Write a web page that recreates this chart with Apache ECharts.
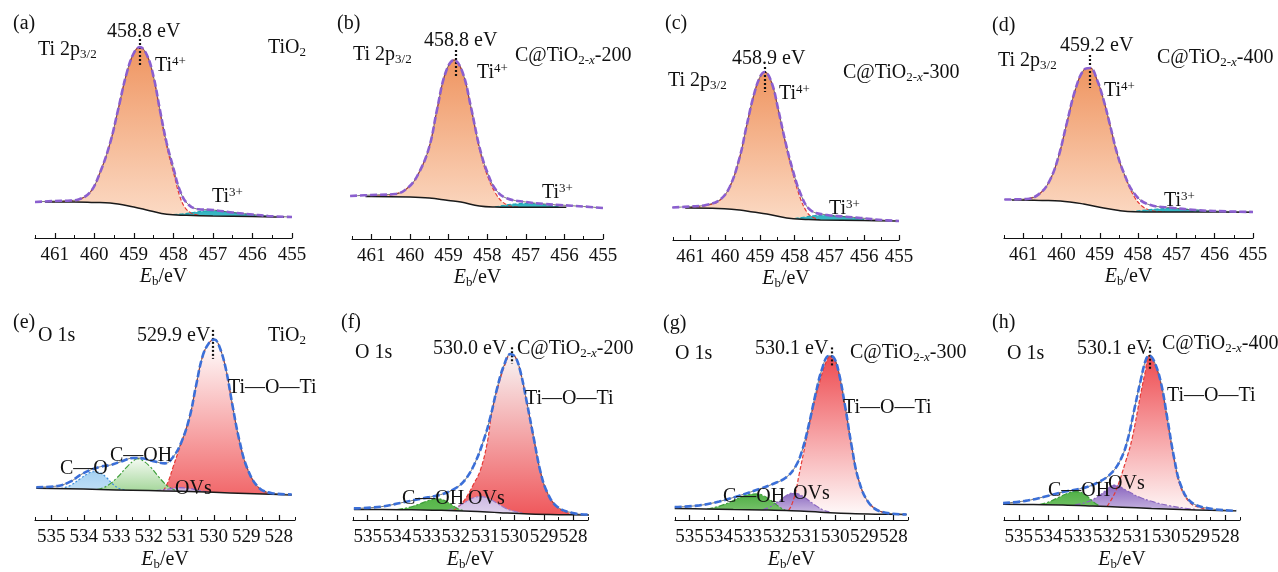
<!DOCTYPE html>
<html>
<head>
<meta charset="utf-8">
<script src="https://cdn.jsdelivr.net/npm/echarts@6/dist/echarts.min.js"></script>
<style>
  html, body { margin: 0; padding: 0; background: #fff; }
  #chart { width: 1278px; height: 572px; }
</style>
</head>
<body>
<div id="chart"></div>
<script>
// tick labels
const tiTicks = [455, 456, 457, 458, 459, 460, 461]
const tiMinor = [455.5, 456.5, 457.5, 458.5, 459.5, 460.5, 461.5]
const oTicks = [528, 529, 530, 531, 532, 533, 534, 535]
const oMinor = [527.5, 528.5, 529.5, 530.5, 531.5, 532.5, 533.5, 534.5, 535.5]

// (a) TiO2, Ti 2p3/2  -- [binding energy, intensity]
const aEnv = [[461.5,36],[461.0,37],[460.6,37.5],[460.4,38.5],[460.1,46],[459.86,65],[459.6,95],[459.4,128],[459.18,165],[459.0,185],[458.85,191],[458.67,183],[458.5,161],[458.34,128],[458.17,95],[458.0,70],[457.84,48],[457.66,35],[457.4,29],[457.0,28],[456.5,25.5],[456.0,23.5],[455.6,22],[455.0,21]]
const aBg = [[461.25,36],[461.1,36],[460.5,36],[460.0,35.5],[459.6,35],[459.0,31],[458.6,27.3],[458.17,23.7],[457.66,22.7],[457.0,22],[456.0,21.5],[455.3,21],[455.2,21]]
const aTi4 = [[461.1,36.1],[460.6,37.2],[460.4,38.2],[460.1,46],[459.86,65],[459.6,95],[459.4,128],[459.18,165],[459.0,185],[458.85,191],[458.67,183],[458.5,160],[458.34,126],[458.17,92],[458.0,66],[457.84,42],[457.7,30],[457.55,25],[457.4,23],[457.2,22.2]]
const aTi3 = [[458.0,23.5],[457.8,24],[457.5,25.5],[457.2,27],[457.0,27.3],[456.7,26.5],[456.4,25],[456.0,23],[455.6,21.8]]

// (b) C@TiO2-x-200, Ti 2p3/2
const bEnv = [[461.55,43],[461.0,44],[460.38,45],[460.03,52],[459.77,66],[459.5,92],[459.3,129],[459.08,166],[458.86,179],[458.64,167],[458.42,132],[458.2,92],[457.99,66],[457.77,49],[457.51,41],[457.0,37],[456.5,35],[456.12,34],[455.5,32.5],[455.0,31]]
const bBg = [[461.15,42.5],[461.0,42.5],[460.0,42],[459.5,41],[459.0,38.5],[458.68,37],[458.2,33],[457.8,32],[457.0,31.7],[456.1,31.7],[455.95,31.7]]
const bTi4 = [[461.0,42.6],[460.38,45],[460.03,52],[459.77,66],[459.5,92],[459.3,129],[459.08,166],[458.86,179],[458.64,167],[458.42,131],[458.2,90],[457.99,63],[457.77,45],[457.6,37],[457.4,33],[457.2,32]]
const bTi3 = [[457.8,32],[457.5,34],[457.2,35.3],[456.9,35.5],[456.6,34.5],[456.3,33],[456.1,32]]

// (c) C@TiO2-x-300, Ti 2p3/2
const cEnv = [[461.52,32.5],[461.0,33.5],[460.55,35],[460.16,40],[459.87,53],[459.58,83],[459.39,113],[459.19,143],[459.0,163],[458.86,168],[458.66,157],[458.47,130],[458.28,100],[458.08,73],[457.84,47],[457.55,30],[457.07,25],[456.6,23.5],[456.1,22],[455.5,20],[455.0,19]]
const cBg = [[461.15,32],[461.0,32],[460.37,31.8],[459.58,30],[459.2,28],[458.8,26],[458.23,22],[457.6,20.5],[457.26,20],[456.0,19.5],[455.0,19]]
const cTi4 = [[461.0,32.2],[460.55,34.5],[460.16,39.5],[459.87,53],[459.58,83],[459.39,113],[459.19,143],[459.0,163],[458.86,168],[458.66,157],[458.47,130],[458.28,99],[458.08,70],[457.84,42],[457.65,28],[457.5,23],[457.3,20.5]]
const cTi3 = [[458.0,21.5],[457.7,23],[457.4,24.5],[457.1,24.8],[456.8,24],[456.4,22.5],[456.0,20.5]]

// (d) C@TiO2-x-400, Ti 2p3/2
const dEnv = [[461.49,38.5],[460.9,39],[460.55,45],[460.3,58],[460.08,81],[459.86,115],[459.64,148],[459.42,168],[459.25,170],[459.07,158],[458.9,138],[458.72,111],[458.55,85],[458.37,65],[458.11,45],[457.76,34],[457.07,30],[456.5,28],[456.02,27],[455.0,26]]
const dBg = [[461.3,38],[461.16,38],[460.5,37.5],[460.03,37],[459.42,34],[458.9,30],[458.5,27.5],[458.11,26.2],[457.5,26],[456.5,26],[455.14,25.8],[455.05,25.8]]
const dTi4 = [[461.16,38.1],[460.9,39],[460.55,45],[460.3,58],[460.08,81],[459.86,115],[459.64,148],[459.42,168],[459.25,170],[459.07,158],[458.9,138],[458.72,111],[458.55,85],[458.37,64],[458.11,42],[457.9,32],[457.7,28],[457.5,26.5],[457.3,26]]
const dTi3 = [[458.2,26.3],[457.9,27.5],[457.5,29],[457.2,29.5],[456.9,29],[456.5,28],[456.0,26.5],[455.6,26]]

// (e) TiO2, O 1s
const eEnv = [[535.46,34],[534.8,35.3],[534.4,40],[534.09,47],[533.78,52],[533.48,55.3],[533.18,57],[532.87,60.3],[532.47,64.3],[532.16,63.7],[531.86,61],[531.5,58.7],[531.25,65.3],[531.0,80.3],[530.74,107],[530.54,140],[530.34,170],[530.14,183.7],[529.98,187],[529.83,180],[529.63,157],[529.43,120],[529.22,83.7],[528.97,53.7],[528.62,33.7],[528.21,27.8],[527.6,26.5]]
const eBg = [[535.46,33],[534.0,32],[533.0,31.2],[532.0,30.5],[531.0,29.8],[530.0,28.7],[529.0,27.5],[528.0,26.3],[527.6,26]]
const eCO = [[534.7,32.5],[534.4,36],[534.1,43],[533.85,48.5],[533.7,50],[533.5,49],[533.3,44],[533.1,37],[532.9,32.5],[532.7,31.3]]
const eCOH = [[533.6,31.5],[533.3,35],[533.0,43],[532.7,54],[532.45,62],[532.35,63.5],[532.2,62],[531.95,55],[531.7,45],[531.45,36],[531.2,31],[531.0,29.9]]
const eOV = [[531.8,30.4],[531.4,32],[531.1,33.5],[530.8,33],[530.5,31],[530.2,29]]
const eTOT = [[531.55,30],[531.4,40],[531.25,55],[531.1,70],[531.0,80],[530.74,107],[530.54,140],[530.34,170],[530.14,183.7],[529.98,187],[529.83,180],[529.63,157],[529.43,120],[529.22,83.7],[528.97,53.7],[528.62,33.5],[528.3,28],[528.0,26.4]]

// (f) C@TiO2-x-200, O 1s
const fEnv = [[535.47,12],[534.56,13.7],[533.88,17.7],[533.2,22],[532.52,26.3],[532.06,32],[531.72,40.3],[531.38,57],[531.04,83.7],[530.82,107],[530.59,137],[530.36,160.3],[530.14,172],[529.97,168.7],[529.8,153.7],[529.57,120],[529.34,83.7],[529.12,50.3],[528.89,28.7],[528.55,13.7],[527.98,7],[527.47,5.5]]
const fBg = [[535.47,11],[534.5,11],[533.5,10.5],[532.5,10],[531.5,9],[530.5,7.5],[529.5,6.2],[528.5,5.5],[527.47,5.2]]
const fCOH = [[534.0,10.8],[533.6,13],[533.2,17],[532.9,20.5],[532.63,22],[532.4,20.5],[532.15,16],[531.95,12],[531.7,9.3]]
const fOV = [[532.3,9.8],[532.0,13],[531.7,18],[531.4,23],[531.15,24.3],[530.9,22.5],[530.6,17.5],[530.3,12],[530.0,9],[529.7,6.8]]
const fTOT = [[532.06,10],[531.72,20],[531.38,38],[531.16,52],[530.93,80],[530.76,113.7],[530.48,147],[530.3,163],[530.14,172],[529.97,168.7],[529.8,153.7],[529.57,120],[529.34,83.7],[529.12,50.3],[528.89,28.7],[528.55,13.5],[528.2,7.5],[527.9,5.9]]

// (g) C@TiO2-x-300, O 1s
const gEnv = [[535.51,13.3],[534.66,15],[533.98,19],[533.29,25],[532.61,31.7],[532.16,36.7],[531.7,43.3],[531.36,55],[531.13,71.7],[530.9,98.3],[530.68,128.3],[530.45,155],[530.22,168.3],[530.05,166.7],[529.88,151.7],[529.65,115],[529.43,75],[529.2,41.7],[528.86,18.3],[528.4,8.3],[527.55,5.7]]
const gBg = [[535.51,11.7],[534.5,11.3],[533.5,10.8],[532.5,10.3],[531.5,9.5],[530.5,8],[529.5,6.6],[528.5,5.9],[527.55,5.6]]
const gCOH = [[534.4,11.2],[534.0,14],[533.6,18.5],[533.2,24],[532.9,26.5],[532.72,26.7],[532.5,25.5],[532.2,20],[531.9,13],[531.7,9.6]]
const gOV = [[532.5,10.3],[532.2,14],[531.9,20],[531.65,25.5],[531.47,27.7],[531.25,26.5],[531.0,22],[530.7,15.5],[530.4,10],[530.2,8.3]]
const gTOT = [[531.6,10],[531.5,15],[531.36,28.3],[531.25,45],[531.02,78.3],[530.79,111.7],[530.5,145],[530.3,163],[530.15,168.5],[530.05,166.7],[529.88,151.7],[529.65,115],[529.43,75],[529.2,41.7],[528.86,18.3],[528.4,8.3],[528.0,6.1]]

// (h) C@TiO2-x-400, O 1s
const hEnv = [[535.53,17],[534.78,19.3],[534.1,23.7],[533.43,28.7],[532.76,32.7],[532.31,38],[531.87,47],[531.53,62],[531.3,82],[531.08,112],[530.86,142],[530.69,162],[530.58,166],[530.41,160.3],[530.18,138.7],[529.96,102],[529.73,62],[529.51,35.3],[529.18,18.7],[528.62,12],[527.63,9.3]]
const hBg = [[535.53,16],[534.5,15.6],[533.5,15.2],[532.5,14.2],[531.5,13],[530.5,11.6],[529.5,10.5],[528.5,9.8],[527.63,9.3]]
const hCOH = [[534.3,15.6],[534.0,18],[533.6,23.5],[533.3,27.5],[533.1,28.7],[532.9,28],[532.7,24.5],[532.5,19],[532.3,14.8]]
const hOV = [[533.1,15.2],[532.7,18],[532.3,24],[532.0,31],[531.8,35.3],[531.6,34],[531.3,29],[530.9,23],[530.4,18],[529.9,14.5],[529.4,12],[529.0,10.6]]
const hTOT = [[532.0,14],[531.72,28.7],[531.38,58.7],[531.16,82],[530.88,125.3],[530.72,148.7],[530.58,166],[530.41,159],[530.18,137],[529.96,100],[529.73,60],[529.51,33],[529.18,17],[528.8,12],[528.5,10.2]]

const SERIF = 'Liberation Serif'
const TI_ENV = '#8b5fcf'
const O_ENV = '#3b6fd8'

const grad = (top, bottom) =>
  new echarts.graphic.LinearGradient(0, 0, 0, 1, [
    { offset: 0, color: top },
    { offset: 1, color: bottom }
  ])

const ti4 = (data) => ({ data, line: '#e53935', dash: [4, 2], fill: ['#ef9561', '#fde3d1'] })
const ti3 = (data) => ({ data, line: '#1fa5b5', dash: [4, 2], fill: ['#2fb3c0', '#86d6de'] })
const comp = (data, line, dash, top, bottom) => ({ data, line, dash, fill: [top, bottom] })

const sample = (n) => '{n|C@TiO}{sb|2-}{sbi|x}{n|-' + n + '}'
const TI2P = '{n|Ti 2p}{sb|3/2}'

const panels = [
  { left: 35, width: 257, bottom: 238, min: 455, max: 461.5, ticks: tiTicks, minor: tiMinor, env: aEnv, bg: aBg, envColor: TI_ENV,
    comps: [ti4(aTi4), ti3(aTi3)], peak: [458.85, 199, 171],
    texts: [['{n|(a)}', 13, 24], [TI2P, 38, 50], ['{n|458.8 eV}', 107, 32], ['{n|TiO}{sb|2}', 268, 48], ['{n|Ti}{sp|4+}', 155, 66], ['{n|Ti}{sp|3+}', 212, 197]] },
  { left: 352, width: 251, bottom: 239, min: 455, max: 461.5, ticks: tiTicks, minor: tiMinor, env: bEnv, bg: bBg, envColor: TI_ENV,
    comps: [ti4(bTi4), ti3(bTi3)], peak: [458.82, 189, 162],
    texts: [['{n|(b)}', 337, 24], [TI2P, 353, 55], ['{n|458.8 eV}', 424, 41], [sample(200), 515, 56], ['{n|Ti}{sp|4+}', 477, 73], ['{n|Ti}{sp|3+}', 542, 193]] },
  { left: 673, width: 226, bottom: 240, min: 455, max: 461.5, ticks: tiTicks, minor: tiMinor, env: cEnv, bg: cBg, envColor: TI_ENV,
    comps: [ti4(cTi4), ti3(cTi3)], peak: [458.86, 173, 148],
    texts: [['{n|(c)}', 665, 24], [TI2P, 668, 81], ['{n|458.9 eV}', 732, 59], [sample(300), 843, 73], ['{n|Ti}{sp|4+}', 779, 94], ['{n|Ti}{sp|3+}', 829, 209]] },
  { left: 1004, width: 249, bottom: 238, min: 455, max: 461.5, ticks: tiTicks, minor: tiMinor, env: dEnv, bg: dBg, envColor: TI_ENV,
    comps: [ti4(dTi4), ti3(dTi3)], peak: [459.25, 183, 150],
    texts: [['{n|(d)}', 992, 26], [TI2P, 998, 61], ['{n|459.2 eV}', 1060, 46], [sample(400), 1157, 58], ['{n|Ti}{sp|4+}', 1104, 91], ['{n|Ti}{sp|3+}', 1164, 201]] },
  { left: 35, width: 260, bottom: 527, min: 527.5, max: 535.5, ticks: oTicks, minor: oMinor, env: eEnv, bg: eBg, envColor: O_ENV,
    comps: [
      comp(eTOT, '#e53935', [4, 2], '#ffffff', '#ef4f52'),
      comp(eCO, '#3d8fdc', [2, 2], '#a6d2f2', '#e6f2fb'),
      comp(eCOH, '#3f9f3a', [6, 2, 2, 2], '#f4faf2', '#5fb84e'),
      comp(eOV, '#8e63c4', [6, 2, 2, 2], '#c9b3e0', '#e8def2')
    ], peak: [530.02, 197, 167],
    texts: [['{n|(e)}', 13, 323], ['{n|O 1s}', 38, 336], ['{n|529.9 eV}', 137, 336], ['{n|TiO}{sb|2}', 268, 336], ['{n|Ti—O—Ti}', 228, 388], ['{n|C—OH}', 110, 456], ['{n|C—O}', 60, 469], ['{n|OVs}', 175, 489]] },
  { left: 353, width: 235, bottom: 527, min: 527.5, max: 535.5, ticks: oTicks, minor: oMinor, env: fEnv, bg: fBg, envColor: O_ENV,
    comps: [
      comp(fTOT, '#e53935', [4, 2], '#f8f4f4', '#ef5357'),
      comp(fOV, '#9b7cc8', [6, 2, 2, 2], '#cdb8e2', '#e6dcf0'),
      comp(fCOH, '#3f9f3a', [6, 2, 2, 2], '#55b548', '#6dc060')
    ], peak: [530.11, 179, 162],
    texts: [['{n|(f)}', 341, 323], ['{n|O 1s}', 355, 353], ['{n|530.0 eV}', 433, 349], [sample(200), 517, 349], ['{n|Ti—O—Ti}', 525, 399], ['{n|C—OH}', 402, 499], ['{n|OVs}', 468, 499]] },
  { left: 675, width: 233, bottom: 525, min: 527.5, max: 535.5, ticks: oTicks, minor: oMinor, env: gEnv, bg: gBg, envColor: O_ENV,
    comps: [
      comp(gTOT, '#e53935', [4, 2], '#ee4b50', '#ffffff'),
      comp(gOV, '#8a66bf', [6, 2, 2, 2], '#8b69c0', '#e2d6ee'),
      comp(gCOH, '#3f9f3a', [6, 2, 2, 2], '#4fae45', '#8ccc7e')
    ], peak: [530.13, 177, 158],
    texts: [['{n|(g)}', 663, 324], ['{n|O 1s}', 675, 354], ['{n|530.1 eV}', 755, 349], [sample(300), 850, 353], ['{n|Ti—O—Ti}', 843, 408], ['{n|C—OH}', 723, 497], ['{n|OVs}', 793, 494]] },
  { left: 1004, width: 236, bottom: 522, min: 527.5, max: 535.5, ticks: oTicks, minor: oMinor, env: hEnv, bg: hBg, envColor: O_ENV,
    comps: [
      comp(hTOT, '#e53935', [4, 2], '#ee4b50', '#ffffff'),
      comp(hOV, '#8a66bf', [6, 2, 2, 2], '#8a66bf', '#dcd0ec'),
      comp(hCOH, '#3f9f3a', [6, 2, 2, 2], '#52b248', '#88cb7b')
    ], peak: [530.57, 175, 152],
    texts: [['{n|(h)}', 992, 323], ['{n|O 1s}', 1007, 354], ['{n|530.1 eV}', 1077, 349], [sample(400), 1162, 344], ['{n|Ti—O—Ti}', 1167, 396], ['{n|C—OH}', 1048, 491], ['{n|OVs}', 1108, 484]] }
]

const rich = {
  n: { fontSize: 20, fontFamily: SERIF, lineHeight: 22, fill: '#111', color: '#111' },
  sb: { fontSize: 13, fontFamily: SERIF, lineHeight: 10, verticalAlign: 'bottom', fill: '#111', color: '#111' },
  sbi: { fontSize: 13, fontFamily: SERIF, fontStyle: 'italic', lineHeight: 10, verticalAlign: 'bottom', fill: '#111', color: '#111' },
  sp: { fontSize: 13, fontFamily: SERIF, lineHeight: 10, verticalAlign: 'top', fill: '#111', color: '#111' }
}

const grid = []
const xAxis = []
const yAxis = []
const series = []
const graphic = []

panels.forEach((p, i) => {
  grid.push({ left: p.left, top: p.bottom - 200, width: p.width, height: 200 })
  const base = { type: 'value', gridIndex: i, min: p.min, max: p.max, inverse: true, position: 'bottom', z: 10, splitLine: { show: false } }
  xAxis.push({
    ...base,
    axisLine: { lineStyle: { color: '#111', width: 1.2 } },
    axisTick: { inside: true, length: 5, customValues: p.ticks, lineStyle: { color: '#111', width: 1.2 } },
    axisLabel: { customValues: p.ticks, color: '#111', fontSize: 19, fontFamily: SERIF, margin: 8 },
    name: '{i|E}{s|b}/eV',
    nameLocation: 'middle',
    nameGap: i < 4 ? 27 : 29,
    nameTextStyle: {
      color: '#111', fontSize: 20, fontFamily: SERIF, lineHeight: 22,
      rich: {
        i: { fontSize: 20, fontFamily: SERIF, fontStyle: 'italic', lineHeight: 22, color: '#111' },
        s: { fontSize: 13, fontFamily: SERIF, lineHeight: 10, verticalAlign: 'bottom', color: '#111' }
      }
    }
  })
  xAxis.push({
    ...base,
    axisLine: { show: false },
    axisLabel: { show: false },
    axisTick: { inside: true, length: 3, customValues: p.minor, lineStyle: { color: '#111', width: 1 } }
  })
  yAxis.push({ type: 'value', gridIndex: i, min: 0, max: 200, show: false })

  const xi = i * 2
  p.comps.forEach((c) => {
    series.push({
      type: 'line', xAxisIndex: xi, yAxisIndex: i, data: c.data, smooth: 0.4, symbol: 'none', z: 2,
      lineStyle: { color: c.line, width: 1.2, type: c.dash },
      areaStyle: { color: grad(c.fill[0], c.fill[1]), opacity: 1 }
    })
  })
  // background: white below it hides the lower part of the component fills
  series.push({
    type: 'line', xAxisIndex: xi, yAxisIndex: i, data: p.bg, smooth: 0.4, symbol: 'none', z: 3,
    lineStyle: { color: '#1a1a1a', width: 1.5 },
    areaStyle: { color: '#ffffff', opacity: 1 }
  })
  series.push({
    type: 'line', xAxisIndex: xi, yAxisIndex: i, data: p.env, smooth: 0.4, symbol: 'none', z: 4,
    lineStyle: { color: '#555', width: 0.8 }
  })
  series.push({
    type: 'line', xAxisIndex: xi, yAxisIndex: i, data: p.env, smooth: 0.4, symbol: 'none', z: 5,
    lineStyle: { color: p.envColor, width: 2.6, type: [7, 3] },
    markLine: {
      silent: true, symbol: 'none', animation: false, label: { show: false },
      lineStyle: { color: '#111', type: [2, 2], width: 2.2 },
      data: [[{ coord: [p.peak[0], p.peak[1]] }, { coord: [p.peak[0], p.peak[2]] }]]
    }
  })

  p.texts.forEach((t) => {
    graphic.push({
      type: 'text', x: t[1], y: t[2], z: 100,
      style: { text: t[0], rich, fill: '#111', fontSize: 20, fontFamily: SERIF, align: 'left', verticalAlign: 'middle' }
    })
  })
})

const chart = echarts.init(document.getElementById('chart'), null, { renderer: 'canvas' })
chart.setOption({
  animation: false,
  backgroundColor: '#ffffff',
  textStyle: { fontFamily: SERIF },
  grid,
  xAxis,
  yAxis,
  series,
  graphic
})
</script>
</body>
</html>
